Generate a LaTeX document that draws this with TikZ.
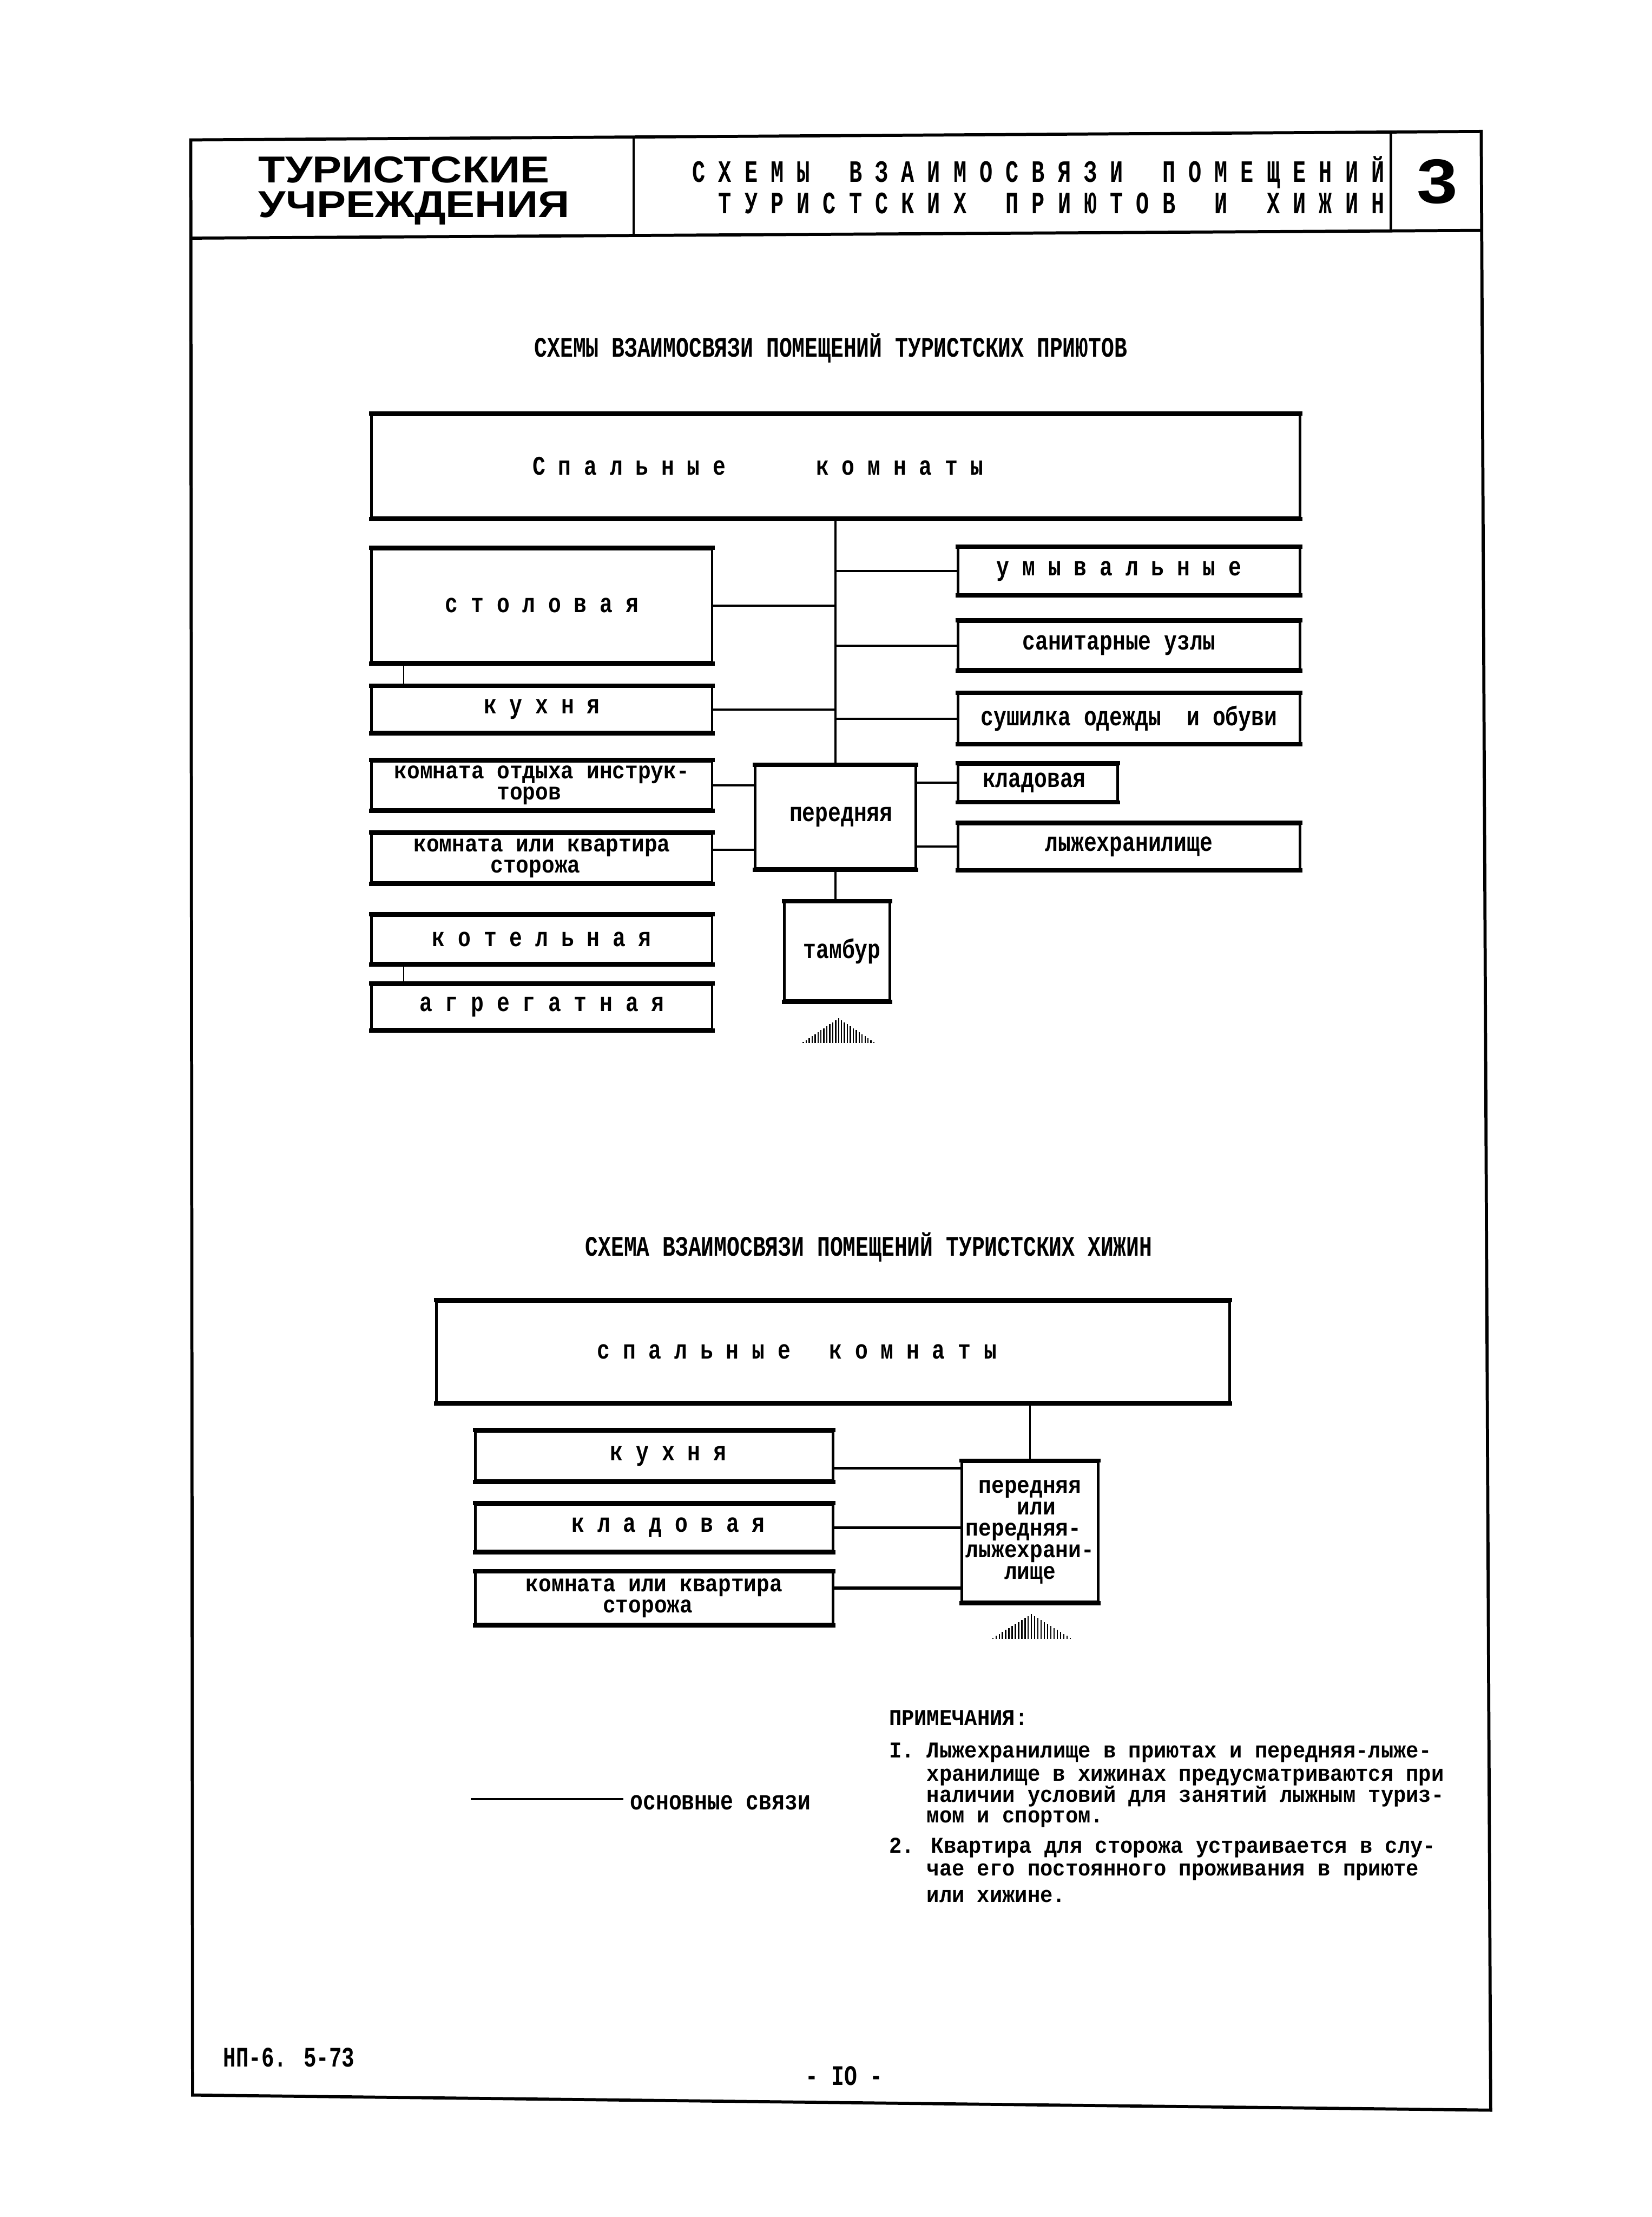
\documentclass[tikz,border=0pt]{standalone}
\usepackage{fontspec}
\usepackage{graphicx}
\setmainfont{Liberation Serif}
\newfontfamily\twbox[FakeStretch=0.80]{Liberation Mono}
\newfontfamily\twsmall[FakeStretch=0.89]{Liberation Mono}
\newfontfamily\twcap[FakeStretch=0.76]{Liberation Mono}
\newfontfamily\twhead[FakeStretch=0.70]{Liberation Mono}
\newfontfamily\twnote[FakeStretch=0.93]{Liberation Mono}
\newfontfamily\twfoot[FakeStretch=0.75]{Liberation Mono}
\newfontfamily\headsans[FakeStretch=1.17]{Liberation Sans}

\newsavebox\cellbox
\newcommand\gap[1]{\sbox\cellbox{x}\kern#1\wd\cellbox}
\let\lsEnd\relax
\def\ls#1{\lsA#1\lsEnd\unkern}
\def\lsA#1{\ifx#1\lsEnd\else#1\gap{1}\expandafter\lsA\fi}
\newcommand\off[2]{\makebox[0pt]{\hspace*{#1}#2}}

\tikzset{
  bx/.style={draw, line width=1.8pt, inner sep=0pt,
    font=\twbox\bfseries\fontsize{19}{14.5}\selectfont},
  bxtwo/.style={align=left, font=\twsmall\bfseries\fontsize{17}{14.8}\selectfont},
  conn/.style={line width=1.5pt},
  conntwo/.style={line width=2pt},
  lnk/.style={line width=1.1pt},
  edgeline/.style={line width=3pt},
  frameline/.style={line width=2.2pt, line join=miter},
  sepline/.style={line width=1.6pt},
  txt/.style={inner sep=0pt, anchor=base west},
  hatch/.style={line width=0.9pt},
}

% box from corner (x1,y1) to (x2,y2)
\newcommand\bxat[7][]{%
  \node[bx, minimum width={#4-#2}, minimum height={#5-#3}, #1] (#6)
    at ({(#2+#4)/2},{(#3+#5)/2}) {#7};}

\newcommand\hatchtri[4]{%
  \foreach \k in {-12,...,12} {
    \pgfmathsetmacro\xx{#1+\k*#4/12.5}
    \pgfmathsetmacro\yy{#3-(#3-#2)*(1-abs(\k)/12.5)}
    \draw[hatch] (\xx,#3) -- (\xx,\yy);
  }}

\begin{document}
\begin{tikzpicture}[x=1pt, y=-1pt]
\fill[white] (0,0) rectangle (1169,1568.6);
\useasboundingbox (0,0) rectangle (1169,1568.6);

% ---------- page frame and header ----------
\draw[frameline] (135,99) -- (1048.3,93) -- (1055,1493) -- (136.3,1482.3) -- cycle;
\draw[frameline] (135,168.5) -- (1048.3,163);
\draw[sepline] (448.3,96.5) -- (448.3,166.3);
\draw[sepline] (984.4,93.9) -- (984.4,163.5);

\node[txt, font=\headsans\bfseries\fontsize{26.5}{28}\selectfont] (h1) at (182.8,129.4) {ТУРИСТСКИЕ};
\node[txt, font=\headsans\bfseries\fontsize{26.5}{28}\selectfont] (h2) at (182.8,153.7) {УЧРЕЖДЕНИЯ};
\node[inner sep=0pt, anchor=base east, font=\twhead\bfseries\fontsize{22}{22}\selectfont] (h3) at (980,128.9)
  {\ls{СХЕМЫ}\gap{3}\ls{ВЗАИМОСВЯЗИ}\gap{3}\ls{ПОМЕЩЕНИЙ}};
\node[inner sep=0pt, anchor=base east, font=\twhead\bfseries\fontsize{22}{22}\selectfont] (h4) at (980,150.9)
  {\ls{ТУРИСТСКИХ}\gap{3}\ls{ПРИЮТОВ}\gap{3}\ls{И}\gap{3}\ls{ХИЖИН}};
\node[inner sep=0pt, anchor=base, font=\headsans\bfseries\fontsize{44.5}{46}\selectfont] (h5) at (1017.3,143.7) {3};

% ---------- diagram 1 ----------
\node[txt, font=\twcap\bfseries\fontsize{20}{20}\selectfont] (t1) at (378,252.5) {СХЕМЫ ВЗАИМОСВЯЗИ ПОМЕЩЕНИЙ ТУРИСТСКИХ ПРИЮТОВ};

\bxat{263}{293.6}{920}{366.3}{sp}{\off{-110pt}{\ls{Спальные}\gap{7}\ls{комнаты}}}
\bxat{678}{387.6}{920}{420.5}{umyv}{\off{-14pt}{\ls{умывальные}}}
\bxat{263}{388.4}{504}{468.5}{stol}{\ls{столовая}}
\bxat{678}{439.9}{920}{473.6}{san}{\off{-14pt}{санитарные узлы}}
\bxat{263}{486}{504}{518}{kuh}{\ls{кухня}}
\bxat{678}{491}{920}{525.8}{sush}{сушилка одежды\gap{2}и обуви}
\bxat[bxtwo]{263}{538.5}{504}{572.7}{otd}{комната отдыха инструк-\\\gap{8}торов}
\bxat{534.3}{541.9}{648.2}{614.4}{per}{\off{8pt}{передняя}}
\bxat{678}{541}{791}{566.8}{klad}{\off{-5pt}{кладовая}}
\bxat[bxtwo]{263}{590}{504}{624.5}{stor}{комната или квартира\\\gap{6}сторожа}
\bxat{678}{583}{920}{615}{lyzh}{лыжехранилище}
\bxat{555}{638.4}{629.8}{708}{tamb}{\off{7pt}{тамбур}}
\bxat{263}{647.8}{504}{681.4}{kot}{\ls{котельная}}
\bxat{263}{696.8}{504}{728.2}{agr}{\ls{агрегатная}}

\draw[conn] (per.north) -- (per.north |- sp.south);
\draw[conn] (umyv.west) -- (umyv.west -| per.north);
\draw[conn] (stol.east) -- (stol.east -| per.north);
\draw[conn] (san.west) -- (san.west -| per.north);
\draw[conn] (kuh.east) -- (kuh.east -| per.north);
\draw[conn] (sush.west) -- (sush.west -| per.north);
\draw[conn] (otd.east) -- (otd.east -| per.west);
\coordinate (s1) at ([yshift=6pt]stor.east);
\draw[conn] (s1) -- (s1 -| per.west);
\draw[conn] (klad.west) -- (klad.west -| per.east);
\draw[conn] (lyzh.west) -- (lyzh.west -| per.east);
\draw[conn] (per.south) -- (per.south |- tamb.north);
\draw[lnk] ([xshift=23.6pt]stol.south west) -- ([xshift=23.6pt]kuh.north west);
\draw[lnk] ([xshift=23.6pt]kot.south west) -- ([xshift=23.6pt]agr.north west);

\hatchtri{593.5}{720.5}{738}{26}

% ---------- diagram 2 ----------
\node[txt, font=\twcap\bfseries\fontsize{20}{20}\selectfont] (t2) at (414,888.5) {СХЕМА ВЗАИМОСВЯЗИ ПОМЕЩЕНИЙ ТУРИСТСКИХ ХИЖИН};

\bxat{308.8}{920.8}{870.3}{992}{sp2}{\off{-51pt}{\ls{спальные}\gap{3}\ls{комнаты}}}
\bxat{336.5}{1012.8}{589.5}{1047.6}{kuh2}{\off{20pt}{\ls{кухня}}}
\bxat{336.5}{1064.4}{589.5}{1097.4}{klad2}{\off{20pt}{\ls{кладовая}}}
\bxat[bxtwo]{336.5}{1112.5}{589.5}{1149}{stor2}{комната или квартира\\\gap{6}сторожа}
\bxat[bxtwo, font=\twsmall\bfseries\fontsize{17}{15.2}\selectfont]{680.6}{1034.3}{777.3}{1133.4}{per2}
  {\gap{1}передняя\\\gap{4}или\\передняя-\\лыжехрани-\\\gap{3}лище}

\draw[conn] (per2.north) -- (per2.north |- sp2.south);
\coordinate (k2) at ([yshift=-8.5pt]kuh2.east);
\draw[conntwo] (k2) -- (k2 -| per2.west);
\draw[conntwo] (klad2.east) -- (klad2.east -| per2.west);
\coordinate (s2) at ([yshift=7.2pt]stor2.east);
\draw[conntwo] (s2) -- (s2 -| per2.west);

\hatchtri{730}{1142}{1159.5}{28.5}

% thick top and bottom edges of the boxes
\foreach \n in {sp,umyv,stol,san,kuh,sush,otd,per,klad,stor,lyzh,tamb,kot,agr,sp2,kuh2,klad2,stor2,per2} {
  \draw[edgeline] ([xshift=-0.9pt]\n.north west) -- ([xshift=0.9pt]\n.north east);
  \draw[edgeline] ([xshift=-0.9pt]\n.south west) -- ([xshift=0.9pt]\n.south east);
}

% ---------- legend ----------
\coordinate (leg) at (333.3,1272.9);
\node[txt, font=\twbox\bfseries\fontsize{19}{14.5}\selectfont] (legt) at (445.8,1280.5) {основные связи};
\draw[conn] (leg) -- ([xshift=-4.8pt]legt.west |- leg);

% ---------- notes ----------
\begin{scope}[every node/.style={txt, font=\twnote\bfseries\fontsize{16}{15}\selectfont}]
\node (nh) at (629,1220.5) {ПРИМЕЧАНИЯ:};
\node (n1a) at (629,1243.5) {I. Лыжехранилище в приютах и передняя-лыже-};
\node (n1b) at (655.7,1260) {хранилище в хижинах предусматриваются при};
\node (n1c) at (655.7,1275) {наличии условий для занятий лыжным туриз-};
\node (n1d) at (655.7,1289.5) {мом и спортом.};
\node (n2a) at (629,1311) {2. Квартира для сторожа устраивается в слу-};
\node (n2b) at (655.7,1327) {чае его постоянного проживания в приюте};
\node (n2c) at (655.7,1346) {или хижине.};
\end{scope}

% ---------- footer ----------
\node[txt, font=\twfoot\bfseries\fontsize{20}{21}\selectfont] (f1) at (157.8,1462.3) {НП-6. 5-73};
\node[txt, font=\twcap\bfseries\fontsize{20}{20}\selectfont] (f2) at (569.9,1475.5) {- IO -};
\end{tikzpicture}
\end{document}
